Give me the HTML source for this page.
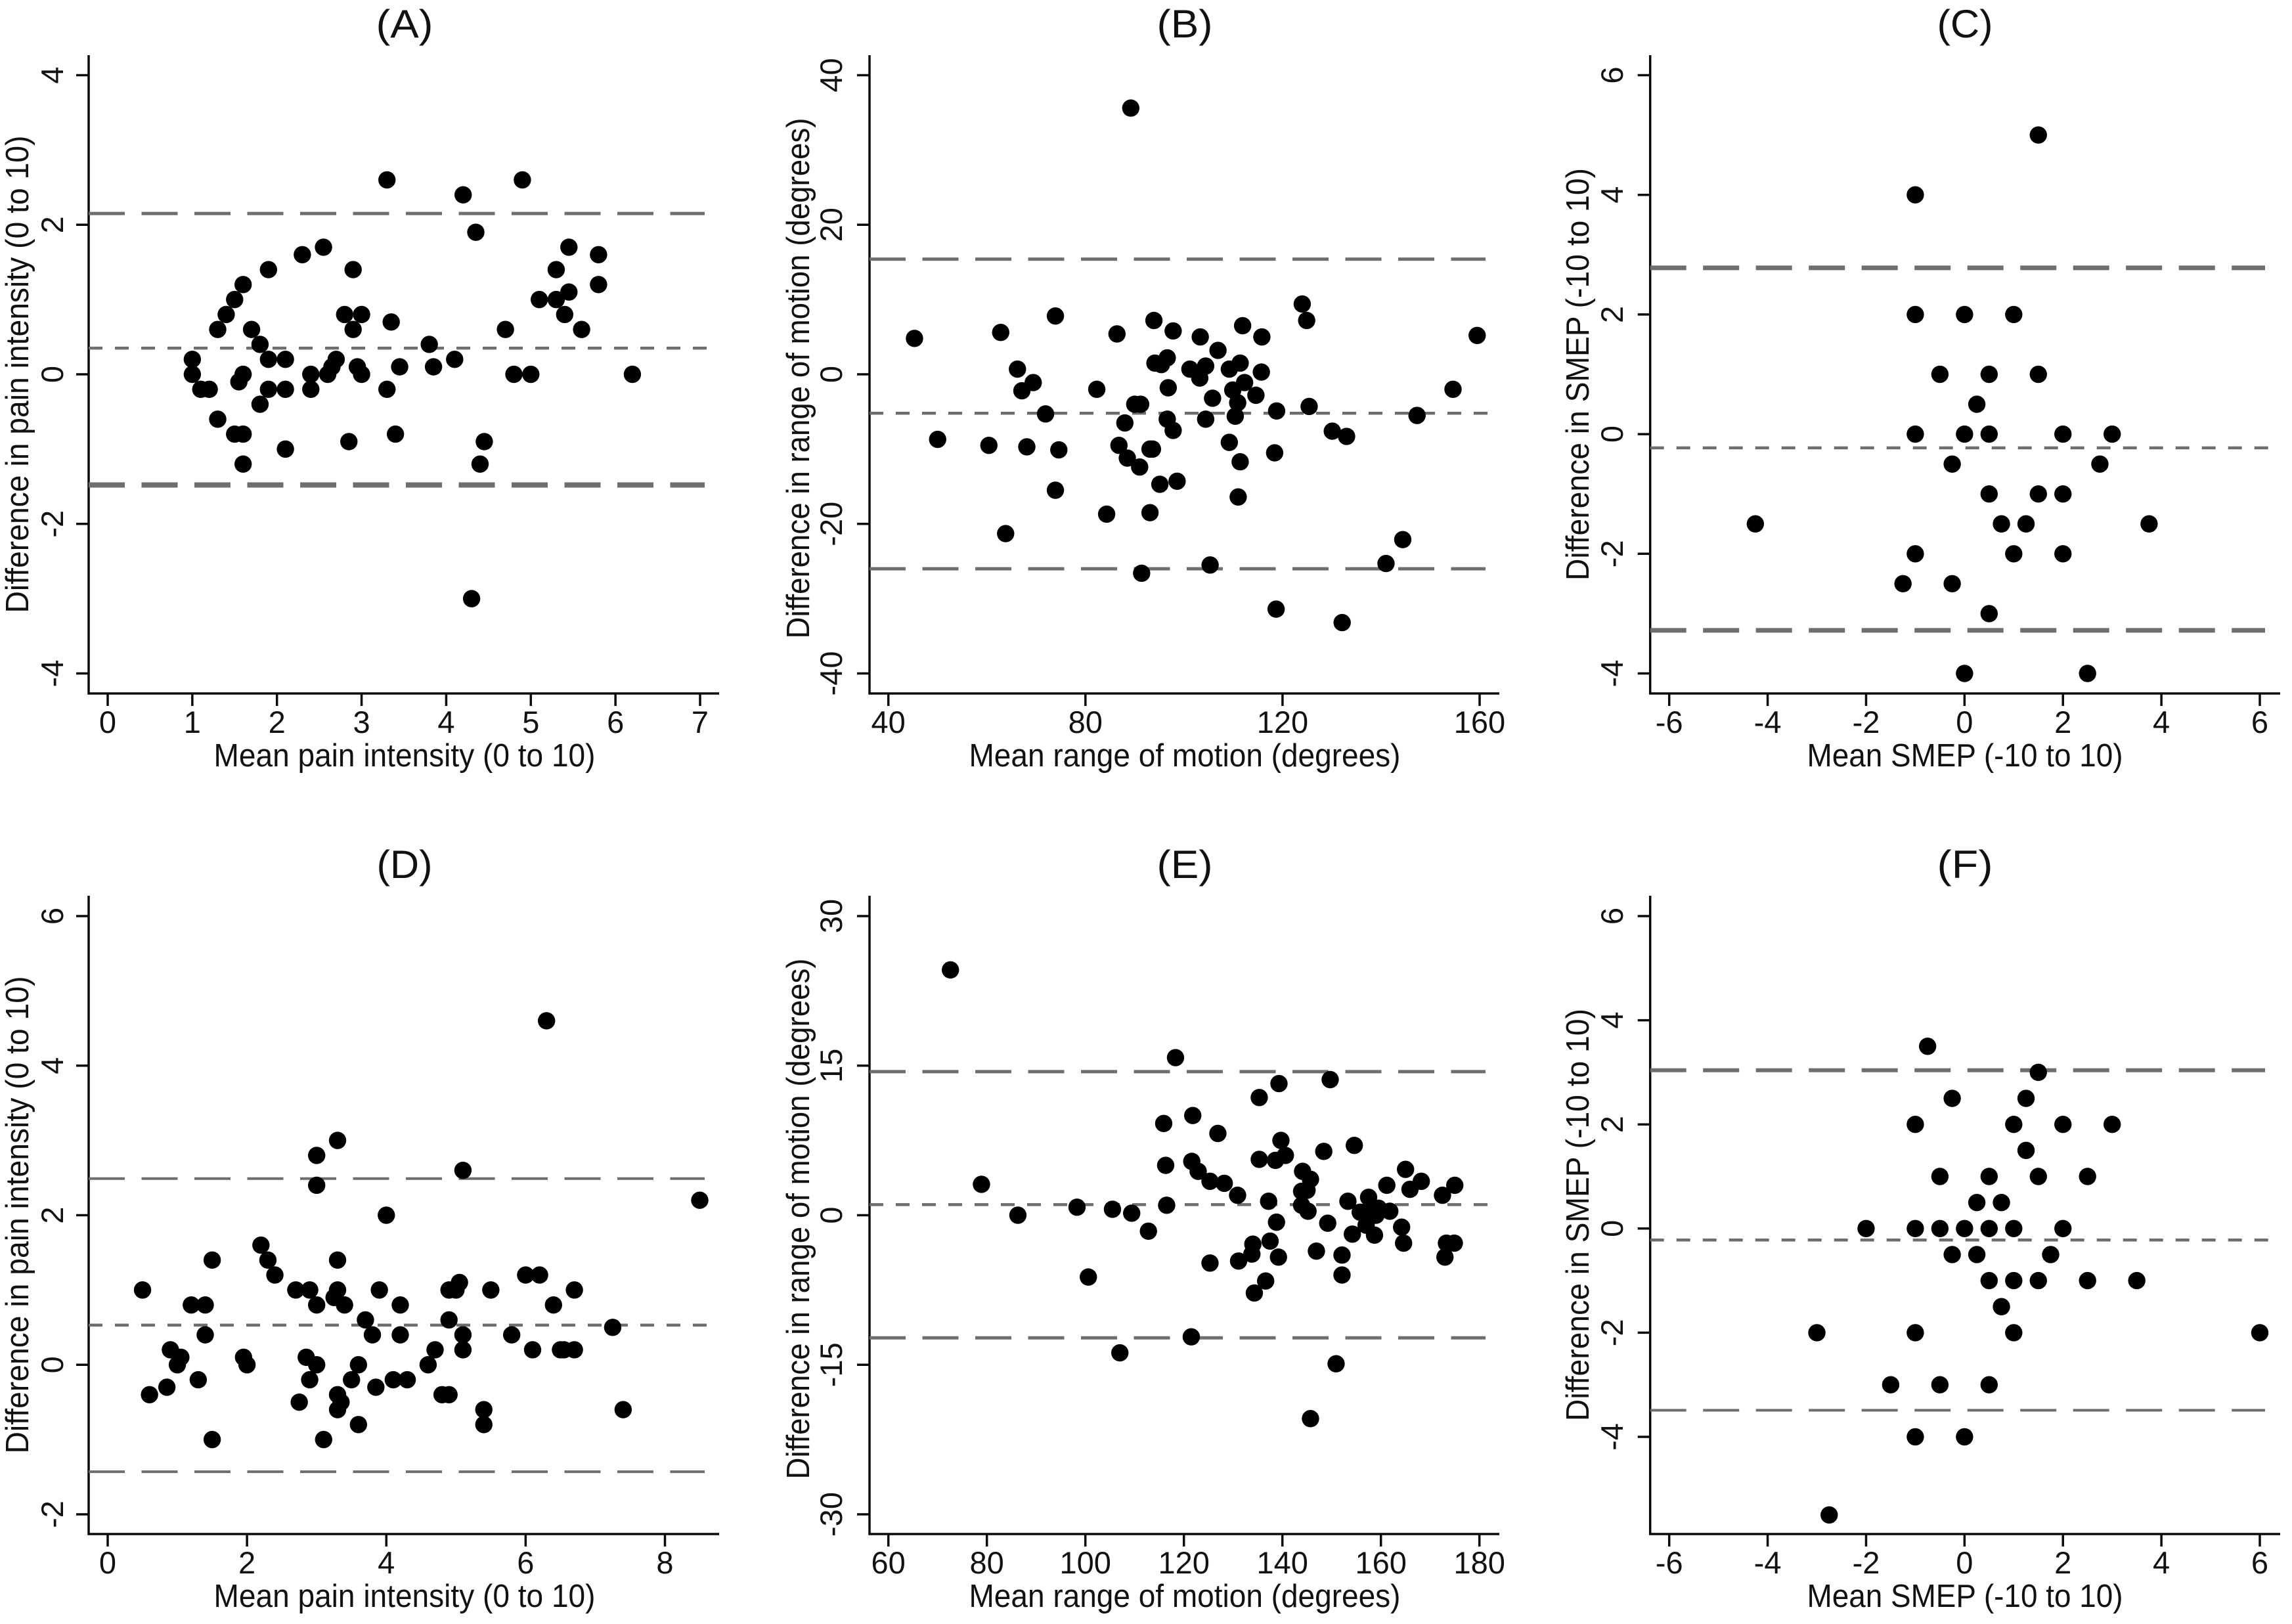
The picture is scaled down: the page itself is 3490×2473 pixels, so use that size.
<!DOCTYPE html>
<html lang="en">
<head>
<meta charset="utf-8">
<title>Bland-Altman plots</title>
<style>
html,body{margin:0;padding:0;background:#fff;}
svg{display:block;}
text{font-family:"Liberation Sans",Arial,sans-serif;fill:#111;}
</style>
</head>
<body>
<svg id="figure" xmlns="http://www.w3.org/2000/svg" width="3490" height="2473" viewBox="0 0 3490 2473">
<rect width="3490" height="2473" fill="#fff"/>

<g id="panel-a">
<text x="616" y="57" font-size="60" text-anchor="middle" textLength="87" lengthAdjust="spacingAndGlyphs">(A)</text>
<text x="616" y="1167" font-size="49" text-anchor="middle" textLength="581" lengthAdjust="spacingAndGlyphs">Mean pain intensity (0 to 10)</text>
<text transform="translate(43,570) rotate(-90)" font-size="49" text-anchor="middle" textLength="727" lengthAdjust="spacingAndGlyphs">Difference in pain intensity (0 to 10)</text>
</g>

<g id="panel-b">
<text x="1804" y="57" font-size="60" text-anchor="middle" textLength="85" lengthAdjust="spacingAndGlyphs">(B)</text>
<text x="1804" y="1167" font-size="49" text-anchor="middle" textLength="657" lengthAdjust="spacingAndGlyphs">Mean range of motion (degrees)</text>
<text transform="translate(1232,576) rotate(-90)" font-size="49" text-anchor="middle" textLength="793" lengthAdjust="spacingAndGlyphs">Difference in range of motion (degrees)</text>
</g>

<g id="panel-c">
<text x="2992" y="57" font-size="60" text-anchor="middle" textLength="85" lengthAdjust="spacingAndGlyphs">(C)</text>
<text x="2992" y="1167" font-size="49" text-anchor="middle" textLength="481" lengthAdjust="spacingAndGlyphs">Mean SMEP (-10 to 10)</text>
<text transform="translate(2419,570) rotate(-90)" font-size="49" text-anchor="middle" textLength="628" lengthAdjust="spacingAndGlyphs">Difference in SMEP (-10 to 10)</text>
</g>

<g id="panel-d">
<text x="616" y="1337" font-size="60" text-anchor="middle" textLength="85" lengthAdjust="spacingAndGlyphs">(D)</text>
<text x="616" y="2447" font-size="49" text-anchor="middle" textLength="581" lengthAdjust="spacingAndGlyphs">Mean pain intensity (0 to 10)</text>
<text transform="translate(43,1850) rotate(-90)" font-size="49" text-anchor="middle" textLength="727" lengthAdjust="spacingAndGlyphs">Difference in pain intensity (0 to 10)</text>
</g>

<g id="panel-e">
<text x="1804" y="1337" font-size="60" text-anchor="middle" textLength="85" lengthAdjust="spacingAndGlyphs">(E)</text>
<text x="1804" y="2447" font-size="49" text-anchor="middle" textLength="657" lengthAdjust="spacingAndGlyphs">Mean range of motion (degrees)</text>
<text transform="translate(1232,1856) rotate(-90)" font-size="49" text-anchor="middle" textLength="793" lengthAdjust="spacingAndGlyphs">Difference in range of motion (degrees)</text>
</g>

<g id="panel-f">
<text x="2992" y="1337" font-size="60" text-anchor="middle" textLength="85" lengthAdjust="spacingAndGlyphs">(F)</text>
<text x="2992" y="2447" font-size="49" text-anchor="middle" textLength="481" lengthAdjust="spacingAndGlyphs">Mean SMEP (-10 to 10)</text>
<text transform="translate(2419,1850) rotate(-90)" font-size="49" text-anchor="middle" textLength="628" lengthAdjust="spacingAndGlyphs">Difference in SMEP (-10 to 10)</text>
</g>
</svg>

<script>
// ---------- Panel A data ----------
const aMeans = [1,1,1.1,1.2,1.3,1.3,1.4,1.5,1.6,1.5,1.6,1.6,1.55,1.6,1.7,1.8,1.9,1.9,1.8,1.9,2.1,2.1,2.1,2.3,2.4,2.4,2.55,2.6,2.65,2.7,2.8,2.85,2.9,2.9,2.95,3,3,3.3,3.3,3.35,3.4,3.45,3.8,3.85,4.1,4.2,4.3,4.35,4.4,4.45,4.7,4.8,4.9,5,5.1,5.3,5.3,5.4,5.45,5.45,5.6,5.8,5.8,6.2];
const aDiffs = [0.2,0,-0.2,-0.2,-0.6,0.6,0.8,1,1.2,-0.8,-0.8,-1.2,-0.1,0,0.6,0.4,0.2,-0.2,-0.4,1.4,0.2,-0.2,-1,1.6,0,-0.2,1.7,0,0.1,0.2,0.8,-0.9,1.4,0.6,0.1,0.8,0,2.6,-0.2,0.7,-0.8,0.1,0.4,0.1,0.2,2.4,-3,1.9,-1.2,-0.9,0.6,0,2.6,0,1,1,1.4,0.8,1.1,1.7,0.6,1.6,1.2,0];
const aLimits = [2.15,-1.48];
const aBias = [0.35];
const aXTicks = [0,1,2,3,4,5,6,7];
const aYTicks = [-4,-2,0,2,4];

// ---------- Panel B data ----------
const bMeans = [45.3,50,60.4,62.8,63.8,66.2,67.1,69.4,68.1,71.9,73.9,73.9,74.6,82.3,84.3,86.4,86.8,88,89.2,88.5,90,91.2,91,91.4,93.1,93.6,93.1,93.9,94.1,95.4,95.1,96.6,96.6,96.8,97.8,97.8,98.6,101.2,103.3,103.2,104.4,104.4,105.3,105.8,106.9,109.2,109.2,109.9,110.9,110.4,111.4,111.9,111.4,111,112.3,114.6,115.8,115.7,118.8,118.4,118.7,124,124.9,125.4,130.1,133,132.1,141,144.4,147.3,154.6,159.5];
const bDiffs = [4.8,-8.7,-9.5,5.6,-21.3,0.7,-2.2,-1.1,-9.7,-5.3,7.8,-15.5,-10.1,-2,-18.7,5.4,-9.5,-6.5,35.6,-11.2,-4,-4,-12.4,-26.6,-10,-10,-18.5,7.2,1.5,1.3,-14.7,2.2,-6,-1.8,5.8,-7.5,-14.3,0.7,5,-0.5,1.1,-6,-25.5,-3.2,3.2,0.7,-9.1,-2.1,-3.8,-5.6,1.5,6.5,-11.7,-16.4,-1.1,-2.8,5,0.3,-4.9,-10.5,-31.4,9.4,7.2,-4.3,-7.6,-8.3,-33.2,-25.3,-22.1,-5.5,-2,5.2];
const bLimits = [15.4,-26];
const bBias = [-5.2];
const bXTicks = [40,80,120,160];
const bYTicks = [-40,-20,0,20,40];

// ---------- Panel C data ----------
const cMeans = [1.5,-1,-1,0,1,-0.5,0.5,1.5,0.25,-1,0,0.5,2,3,-0.25,2.75,0.5,1.5,2,-4.25,0.75,1.25,3.75,-1,1,2,-1.25,-0.25,0.5,0,2.5];
const cDiffs = [5,4,2,2,2,1,1,1,0.5,0,0,0,0,0,-0.5,-0.5,-1,-1,-1,-1.5,-1.5,-1.5,-1.5,-2,-2,-2,-2.5,-2.5,-3,-4,-4];
const cLimits = [2.78,-3.28];
const cBias = [-0.23];
const cXTicks = [-6,-4,-2,0,2,4,6];
const cYTicks = [-4,-2,0,2,4,6];

// ---------- Panel D data ----------
const dMeans = [0.5,0.6,0.85,0.9,1,1.05,1.2,1.3,1.4,1.4,1.5,1.5,1.95,2,2.2,2.3,2.4,2.7,2.75,2.85,2.9,2.9,3,3,3,3,3.1,3.25,3.3,3.3,3.3,3.3,3.3,3.35,3.4,3.5,3.6,3.6,3.7,3.8,3.85,3.9,4,4.1,4.2,4.2,4.3,4.6,4.7,4.8,4.9,4.9,4.9,5,5.05,5.1,5.1,5.1,5.4,5.4,5.5,5.8,6,6.1,6.2,6.3,6.4,6.5,6.55,6.7,6.7,7.25,7.4,8.5];
const dDiffs = [1,-0.4,-0.3,0.2,0,0.1,0.8,-0.2,0.8,0.4,1.4,-1,0.1,0,1.6,1.4,1.2,1,-0.5,0.1,1,-0.2,2.8,2.4,0.8,0,-1,0.9,3,1.4,1,-0.4,-0.6,-0.5,0.8,-0.2,0,-0.8,0.6,0.4,-0.3,1,2,-0.2,0.8,0.4,-0.2,0,0.2,-0.4,-0.4,1,0.6,1,1.1,2.6,0.4,0.2,-0.6,-0.8,1,0.4,1.2,0.2,1.2,4.6,0.8,0.2,0.2,1,0.2,0.5,-0.6,2.2];
const dLimits = [2.49,-1.43];
const dBias = [0.53];
const dXTicks = [0,2,4,6,8];
const dYTicks = [-2,0,2,4,6];

// ---------- Panel E data ----------
const eMeans = [72.6,78.9,86.3,98.3,100.6,105.5,107,109.4,112.8,115.9,116.3,116.5,118.3,121.5,121.8,121.6,122.9,125.3,125.3,126.9,128.2,130.9,131.1,133.8,134,134.3,135.3,135.3,136.6,137.2,137.5,138.8,138.6,139.2,139.3,139.7,140.6,144.1,143.9,145,145.7,143.9,145.2,145.7,146.9,148.4,149.2,149.7,150.9,152.1,152.1,153.3,154.2,154.6,155.8,157,157.5,158,158.7,159.5,159,161.2,161.8,164.2,164.6,165,165.9,168.2,172.5,173,173.3,174.9,175];
const eDiffs = [24.6,3.1,0,0.8,-6.2,0.6,-13.8,0.2,-1.6,9.2,5,1,15.8,-12.2,10,5.4,4.4,3.4,-4.8,8.2,3.2,2,-4.6,-3.9,-2.9,-7.8,11.8,5.6,-6.6,1.4,-2.6,-0.7,5.5,-4.2,13.2,7.5,6,4.4,2.4,2.5,3.6,1,0.4,-20.4,-3.6,6.4,-0.8,13.6,-14.9,-4,-6,1.4,-1.9,7,0.3,-1,1.8,0.8,-2,0.7,0,3,0.4,-1.2,-2.8,4.6,2.6,3.4,2,-4.2,-2.8,-2.8,3];
const eLimits = [14.4,-12.3];
const eBias = [1.06];
const eXTicks = [60,80,100,120,140,160,180];
const eYTicks = [-30,-15,0,15,30];

// ---------- Panel F data ----------
const fMeans = [-0.75,1.5,-0.25,1.25,-1,1,2,3,1.25,-0.5,0.5,1.5,2.5,0.25,0.75,-2,-1,-0.5,0,0.5,1,2,-0.25,0.25,1.75,0.5,1,1.5,2.5,3.5,0.75,-3,-1,1,6,-1.5,-0.5,0.5,-1,0,-2.75];
const fDiffs = [3.5,3,2.5,2.5,2,2,2,2,1.5,1,1,1,1,0.5,0.5,0,0,0,0,0,0,0,-0.5,-0.5,-0.5,-1,-1,-1,-1,-1,-1.5,-2,-2,-2,-2,-3,-3,-3,-4,-4,-5.5];
const fLimits = [3.04,-3.49];
const fBias = [-0.22];
const fXTicks = [-6,-4,-2,0,2,4,6];
const fYTicks = [-4,-2,0,2,4,6];

// ---------- Drawing ----------
const SVG_NS = 'http://www.w3.org/2000/svg';
const INK = '#0a0a0a';
const REF = '#6e6e6e';

function linear(d0, d1, r0, r1) {
  return function (v) { return r0 + (v - d0) * (r1 - r0) / (d1 - d0); };
}

function make(parent, tag, attrs) {
  const el = document.createElementNS(SVG_NS, tag);
  for (const k in attrs) el.setAttribute(k, attrs[k]);
  parent.appendChild(el);
  return el;
}

function drawPanel(p) {
  const g = document.getElementById(p.id);
  const x = linear(p.xd[0], p.xd[1], p.xr[0], p.xr[1]);
  const y = linear(p.yd[0], p.yd[1], p.yr[0], p.yr[1]);

  const yAxis = make(g, 'line', {x1: p.axisX, x2: p.axisX, y1: p.top, y2: p.bottom + 1.5, stroke: INK, 'stroke-width': 3.5});
  
  
  const xAxis = make(g, 'line', {x1: p.axisX - 1.5, x2: p.right, y1: p.bottom, y2: p.bottom, stroke: INK, 'stroke-width': 3.5});
  
  

  p.xTicks.forEach(function (t) {
    const tick = make(g, 'line', {x1: x(t), x2: x(t), y1: p.bottom, y2: p.bottom + 19, stroke: INK, 'stroke-width': 3.5});
    
    
    const label = make(g, 'text', {x: x(t), y: p.bottom + 60, 'font-size': 47, 'text-anchor': 'middle'});
    
    
    label.textContent = String(t);
  });

  p.yTicks.forEach(function (t) {
    const tick = make(g, 'line', {x1: p.axisX - 19, x2: p.axisX, y1: y(t), y2: y(t), stroke: INK, 'stroke-width': 3.5});
    
    
    const label = make(g, 'text', {transform: 'translate(' + p.yLabelX + ',' + y(t) + ') rotate(-90)', 'font-size': 47, 'text-anchor': 'middle'});
    
    
    label.textContent = String(t);
  });

  p.limits.forEach(function (v, i) {
    const line = make(g, 'line', {x1: p.axisX, x2: p.limitEnd, y1: y(v), y2: y(v), stroke: REF, 'stroke-width': p.limitWidths[i], 'stroke-dasharray': '55 25.5'});
    
    
  });
  p.bias.forEach(function (v) {
    const line = make(g, 'line', {x1: p.axisX, x2: p.limitEnd + 10, y1: y(v), y2: y(v), stroke: REF, 'stroke-width': 4.5, 'stroke-dasharray': '21 19'});
    
    
  });

  p.means.forEach(function (m, i) {
    const dot = make(g, 'circle', {cx: x(m), cy: y(p.diffs[i]), r: 13.2, fill: '#000'});
    
    
  });
}

const R1T = 84, R1B = 1056, R2T = 1364, R2B = 2336;

drawPanel({id:'panel-a', means:aMeans, diffs:aDiffs, limits:aLimits, bias:aBias, xTicks:aXTicks, yTicks:aYTicks,
  xd:[0,7], xr:[164,1066], yd:[-4,4], yr:[1025.5,114.5], axisX:135, right:1095, top:R1T, bottom:R1B, yLabelX:96, limitEnd:1073, limitWidths:[5,8]});
drawPanel({id:'panel-b', means:bMeans, diffs:bDiffs, limits:bLimits, bias:bBias, xTicks:bXTicks, yTicks:bYTicks,
  xd:[40,160], xr:[1352.7,2253], yd:[-40,40], yr:[1025.5,114.5], axisX:1324, right:2283, top:R1T, bottom:R1B, yLabelX:1282, limitEnd:2262, limitWidths:[5,5]});
drawPanel({id:'panel-c', means:cMeans, diffs:cDiffs, limits:cLimits, bias:cBias, xTicks:cXTicks, yTicks:cYTicks,
  xd:[-6,6], xr:[2541.7,3441], yd:[-4,6], yr:[1025.5,114.5], axisX:2512.7, right:3472, top:R1T, bottom:R1B, yLabelX:2471, limitEnd:3449, limitWidths:[7,7]});
drawPanel({id:'panel-d', means:dMeans, diffs:dDiffs, limits:dLimits, bias:dBias, xTicks:dXTicks, yTicks:dYTicks,
  xd:[0,8], xr:[164,1012.5], yd:[-2,6], yr:[2306,1395], axisX:135, right:1095, top:R2T, bottom:R2B, yLabelX:96, limitEnd:1073, limitWidths:[4,4]});
drawPanel({id:'panel-e', means:eMeans, diffs:eDiffs, limits:eLimits, bias:eBias, xTicks:eXTicks, yTicks:eYTicks,
  xd:[60,180], xr:[1352.7,2252.7], yd:[-30,30], yr:[2306,1395], axisX:1324, right:2283, top:R2T, bottom:R2B, yLabelX:1282, limitEnd:2262, limitWidths:[5,5]});
drawPanel({id:'panel-f', means:fMeans, diffs:fDiffs, limits:fLimits, bias:fBias, xTicks:fXTicks, yTicks:fYTicks,
  xd:[-6,6], xr:[2541.7,3441], yd:[-4,6], yr:[2188,1395], axisX:2512.7, right:3472, top:R2T, bottom:R2B, yLabelX:2471, limitEnd:3449, limitWidths:[6,4]});
</script>
</body>
</html>
